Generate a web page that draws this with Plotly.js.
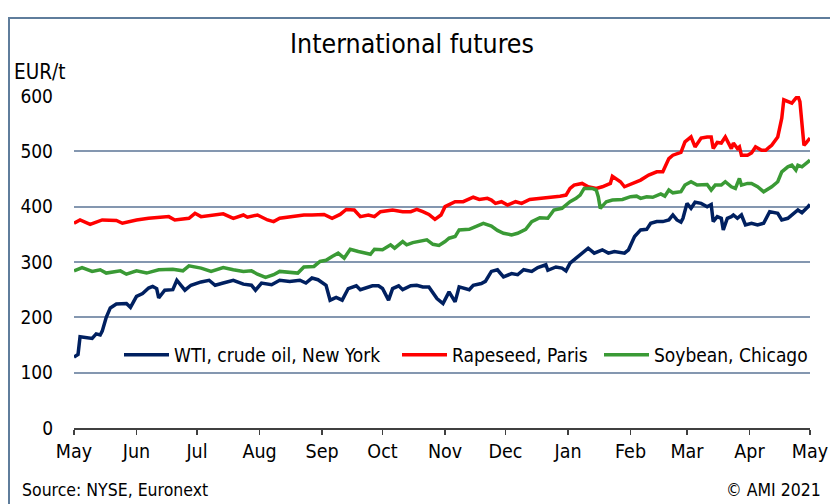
<!DOCTYPE html>
<html>
<head>
<meta charset="utf-8">
<script src="https://cdn.plot.ly/plotly-3.0.1.min.js"></script>
<style>
  html, body { margin:0; padding:0; background:#fff; }
  #wrap { position:relative; width:830px; height:504px; overflow:hidden; }
  #chart { position:absolute; left:0; top:0; width:830px; height:504px; }
  #frame { position:absolute; left:8px; top:17px; width:840px; height:520px;
           border-left:2px solid #5f7d9c; border-top:2px solid #5f7d9c; pointer-events:none; }
</style>
</head>
<body>
<div id="wrap"><div id="chart"></div><div id="frame"></div></div>
<script>
const FONT = "Liberation Sans Narrow, DejaVu Sans Condensed, Arial Narrow, sans-serif";

const monthTicks = ["2020-05-01","2020-06-01","2020-07-01","2020-08-01","2020-09-01","2020-10-01","2020-11-01","2020-12-01","2021-01-01","2021-02-01","2021-03-01","2021-04-01","2021-05-01"];
const monthLabels = ["May","Jun","Jul","Aug","Sep","Oct","Nov","Dec","Jan","Feb","Mar","Apr","May"];
const yTicks = [0,100,200,300,400,500,600];

const seriesNames = ["WTI, crude oil, New York","Rapeseed, Paris","Soybean, Chicago"];

const wtiDates = ["2020-05-01","2020-05-03","2020-05-04","2020-05-07","2020-05-10","2020-05-12","2020-05-14","2020-05-15","2020-05-17","2020-05-19","2020-05-22","2020-05-27","2020-05-29","2020-06-01","2020-06-04","2020-06-07","2020-06-09","2020-06-11","2020-06-12","2020-06-15","2020-06-19","2020-06-21","2020-06-25","2020-06-28","2020-07-03","2020-07-07","2020-07-10","2020-07-14","2020-07-19","2020-07-24","2020-07-28","2020-07-30","2020-08-02","2020-08-07","2020-08-11","2020-08-16","2020-08-21","2020-08-24","2020-08-27","2020-08-30","2020-09-01","2020-09-03","2020-09-05","2020-09-08","2020-09-11","2020-09-14","2020-09-18","2020-09-20","2020-09-26","2020-09-29","2020-10-01","2020-10-04","2020-10-06","2020-10-09","2020-10-11","2020-10-15","2020-10-18","2020-10-21","2020-10-24","2020-10-26","2020-10-28","2020-10-31","2020-11-02","2020-11-03","2020-11-06","2020-11-08","2020-11-13","2020-11-15","2020-11-19","2020-11-21","2020-11-24","2020-11-27","2020-11-30","2020-12-04","2020-12-07","2020-12-10","2020-12-14","2020-12-17","2020-12-21","2020-12-22","2020-12-26","2020-12-29","2020-12-31","2021-01-02","2021-01-05","2021-01-08","2021-01-11","2021-01-14","2021-01-18","2021-01-21","2021-01-24","2021-01-29","2021-01-31","2021-02-03","2021-02-06","2021-02-09","2021-02-11","2021-02-14","2021-02-17","2021-02-20","2021-02-22","2021-02-24","2021-02-26","2021-02-27","2021-03-01","2021-03-03","2021-03-05","2021-03-08","2021-03-11","2021-03-13","2021-03-14","2021-03-16","2021-03-18","2021-03-19","2021-03-21","2021-03-23","2021-03-24","2021-03-26","2021-03-28","2021-03-30","2021-04-02","2021-04-05","2021-04-08","2021-04-11","2021-04-15","2021-04-17","2021-04-20","2021-04-25","2021-04-27","2021-04-30","2021-05-01"];
const wtiValues = [128,133,165,163,162,170,168,175,200,217,224,225,218,238,243,253,256,252,235,249,250,267,249,258,264,267,258,262,267,260,258,249,262,259,267,265,267,262,271,268,262,258,231,236,231,252,257,250,257,257,252,231,252,257,250,257,258,255,255,243,234,225,237,246,228,255,250,258,261,265,283,286,273,279,277,286,283,290,295,285,291,289,284,298,307,316,325,316,322,316,319,316,322,346,358,359,370,373,373,376,385,376,372,379,406,397,408,406,400,404,373,382,379,358,379,382,385,379,385,367,370,367,370,391,388,376,379,394,389,400,404];

const rapeDates = ["2020-05-01","2020-05-04","2020-05-09","2020-05-15","2020-05-22","2020-05-25","2020-06-01","2020-06-07","2020-06-17","2020-06-20","2020-06-27","2020-06-30","2020-07-03","2020-07-10","2020-07-14","2020-07-19","2020-07-24","2020-07-26","2020-07-31","2020-08-05","2020-08-08","2020-08-11","2020-08-16","2020-08-23","2020-08-27","2020-09-02","2020-09-06","2020-09-10","2020-09-13","2020-09-17","2020-09-20","2020-09-24","2020-09-27","2020-09-30","2020-10-06","2020-10-11","2020-10-15","2020-10-18","2020-10-21","2020-10-24","2020-10-27","2020-10-30","2020-11-01","2020-11-03","2020-11-06","2020-11-10","2020-11-12","2020-11-15","2020-11-18","2020-11-22","2020-11-24","2020-11-26","2020-11-29","2020-12-02","2020-12-06","2020-12-09","2020-12-13","2020-12-19","2020-12-23","2020-12-28","2020-12-31","2021-01-02","2021-01-04","2021-01-08","2021-01-11","2021-01-15","2021-01-18","2021-01-22","2021-01-23","2021-01-27","2021-01-29","2021-02-02","2021-02-06","2021-02-10","2021-02-14","2021-02-17","2021-02-20","2021-02-22","2021-02-26","2021-02-28","2021-03-03","2021-03-05","2021-03-08","2021-03-11","2021-03-13","2021-03-14","2021-03-16","2021-03-18","2021-03-20","2021-03-23","2021-03-24","2021-03-26","2021-03-27","2021-03-28","2021-03-31","2021-04-02","2021-04-04","2021-04-07","2021-04-09","2021-04-11","2021-04-12","2021-04-15","2021-04-17","2021-04-18","2021-04-20","2021-04-22","2021-04-24","2021-04-25","2021-04-26","2021-04-27","2021-04-28","2021-04-29","2021-04-30","2021-05-01"];
const rapeValues = [370,376,368,376,375,370,376,379,382,376,379,388,382,385,387,379,385,381,385,376,373,379,382,385,385,386,379,386,395,394,382,385,382,391,394,391,391,395,391,386,377,385,400,403,409,409,412,417,413,415,412,406,409,403,409,406,413,415,416,419,421,433,439,442,436,433,436,442,455,445,436,442,448,457,463,463,487,493,498,517,526,508,524,526,526,505,516,515,526,505,515,505,508,493,493,497,508,502,502,508,511,526,560,593,590,587,596,600,590,548,511,515,520,524];

const soyDates = ["2020-05-01","2020-05-05","2020-05-10","2020-05-14","2020-05-17","2020-05-24","2020-05-27","2020-06-01","2020-06-06","2020-06-12","2020-06-19","2020-06-24","2020-06-27","2020-07-03","2020-07-08","2020-07-14","2020-07-19","2020-07-24","2020-07-28","2020-07-31","2020-08-04","2020-08-08","2020-08-11","2020-08-20","2020-08-23","2020-08-28","2020-08-31","2020-09-03","2020-09-06","2020-09-09","2020-09-12","2020-09-15","2020-09-19","2020-09-25","2020-09-27","2020-10-01","2020-10-05","2020-10-07","2020-10-11","2020-10-13","2020-10-16","2020-10-19","2020-10-23","2020-10-26","2020-10-29","2020-11-01","2020-11-03","2020-11-06","2020-11-08","2020-11-13","2020-11-17","2020-11-20","2020-11-24","2020-11-27","2020-11-30","2020-12-04","2020-12-07","2020-12-11","2020-12-14","2020-12-18","2020-12-22","2020-12-25","2020-12-29","2021-01-02","2021-01-05","2021-01-07","2021-01-09","2021-01-13","2021-01-15","2021-01-16","2021-01-17","2021-01-20","2021-01-23","2021-01-28","2021-02-01","2021-02-04","2021-02-06","2021-02-09","2021-02-12","2021-02-16","2021-02-18","2021-02-20","2021-02-22","2021-02-26","2021-02-28","2021-03-03","2021-03-06","2021-03-11","2021-03-13","2021-03-15","2021-03-18","2021-03-20","2021-03-23","2021-03-25","2021-03-27","2021-03-28","2021-03-31","2021-04-02","2021-04-05","2021-04-08","2021-04-12","2021-04-15","2021-04-17","2021-04-20","2021-04-22","2021-04-24","2021-04-25","2021-04-27","2021-04-30","2021-05-01"];
const soyValues = [284,290,283,286,280,284,278,284,280,286,287,284,293,289,283,290,286,283,284,278,272,277,283,280,291,292,301,303,310,316,307,323,319,314,323,322,331,325,337,331,335,337,340,332,330,337,343,346,358,359,365,370,365,357,352,349,352,359,373,380,379,394,397,409,415,421,433,433,430,418,397,409,412,413,418,419,415,418,417,423,419,430,425,427,439,445,439,440,430,439,439,445,436,433,451,439,442,442,436,427,436,445,463,472,475,466,475,472,481,484];

const seriesColors = ["#002060","#ff0000","#3a9a35"];
const seriesX = [wtiDates, rapeDates, soyDates];
const seriesY = [wtiValues, rapeValues, soyValues];
const legendIds = ["legend","legend2","legend3"];

const traces = seriesNames.map((n,i)=>({
  type:"scatter", mode:"lines", name:n,
  x:seriesX[i], y:seriesY[i],
  line:{color:seriesColors[i], width:3.5},
  legend:legendIds[i]
}));

const L=74, R=810, T=96, B=428, W=830, H=504;
const px = v => (v-L)/(R-L);
const py = v => (B-v)/(B-T);

const legendBase = (xPix) => ({orientation:"h", x:px(xPix), xanchor:"left", y:py(355), yanchor:"middle",
  bgcolor:"rgba(0,0,0,0)", font:{family:FONT, size:19, color:"#000"}, itemwidth:45});

const layout = {
  width:W, height:H,
  margin:{l:L, r:W-R, t:T, b:H-B},
  paper_bgcolor:"rgba(0,0,0,0)", plot_bgcolor:"rgba(0,0,0,0)",
  font:{family:FONT, color:"#000", size:17},
  showlegend:true,
  title:{text:"International futures", x:412/W, xref:"container", xanchor:"center",
         y:1-44/H, yref:"container", yanchor:"middle",
         font:{family:FONT, size:26.5, color:"#000"}},
  xaxis:{type:"date", range:["2020-05-01","2021-05-01"],
         tickvals:monthTicks, ticktext:monthLabels,
         showgrid:false, zeroline:false,
         showline:true, linecolor:"#404040", linewidth:1.5,
         ticks:"outside", ticklen:5, tickwidth:1.2, tickcolor:"#404040",
         tickfont:{family:FONT, size:19.5, color:"#000"}},
  yaxis:{range:[0,600], tickvals:yTicks, ticktext:yTicks.map(String),
         showgrid:true, gridcolor:"#8497b0", gridwidth:2,
         zeroline:false, showline:false, ticks:"",
         ticklabelstandoff:20,
         tickfont:{family:FONT, size:19, color:"#000"}},
  legend:legendBase(119),
  legend2:legendBase(397),
  legend3:legendBase(599),
  annotations:[
    {text:"EUR/t", xref:"paper", yref:"paper", x:px(12), y:py(72), xanchor:"left", yanchor:"middle",
     showarrow:false, font:{family:FONT, size:20.5, color:"#000"}},
    {text:"Source: NYSE, Euronext", xref:"paper", yref:"paper", x:px(20), y:py(490), xanchor:"left", yanchor:"middle",
     showarrow:false, font:{family:FONT, size:17.5, color:"#000"}},
    {text:"© AMI 2021", xref:"paper", yref:"paper", x:px(823), y:py(490), xanchor:"right", yanchor:"middle",
     showarrow:false, font:{family:FONT, size:17.5, color:"#000"}}
  ]
};

Plotly.newPlot("chart", traces, layout, {displayModeBar:false, staticPlot:true});
</script>
</body>
</html>
